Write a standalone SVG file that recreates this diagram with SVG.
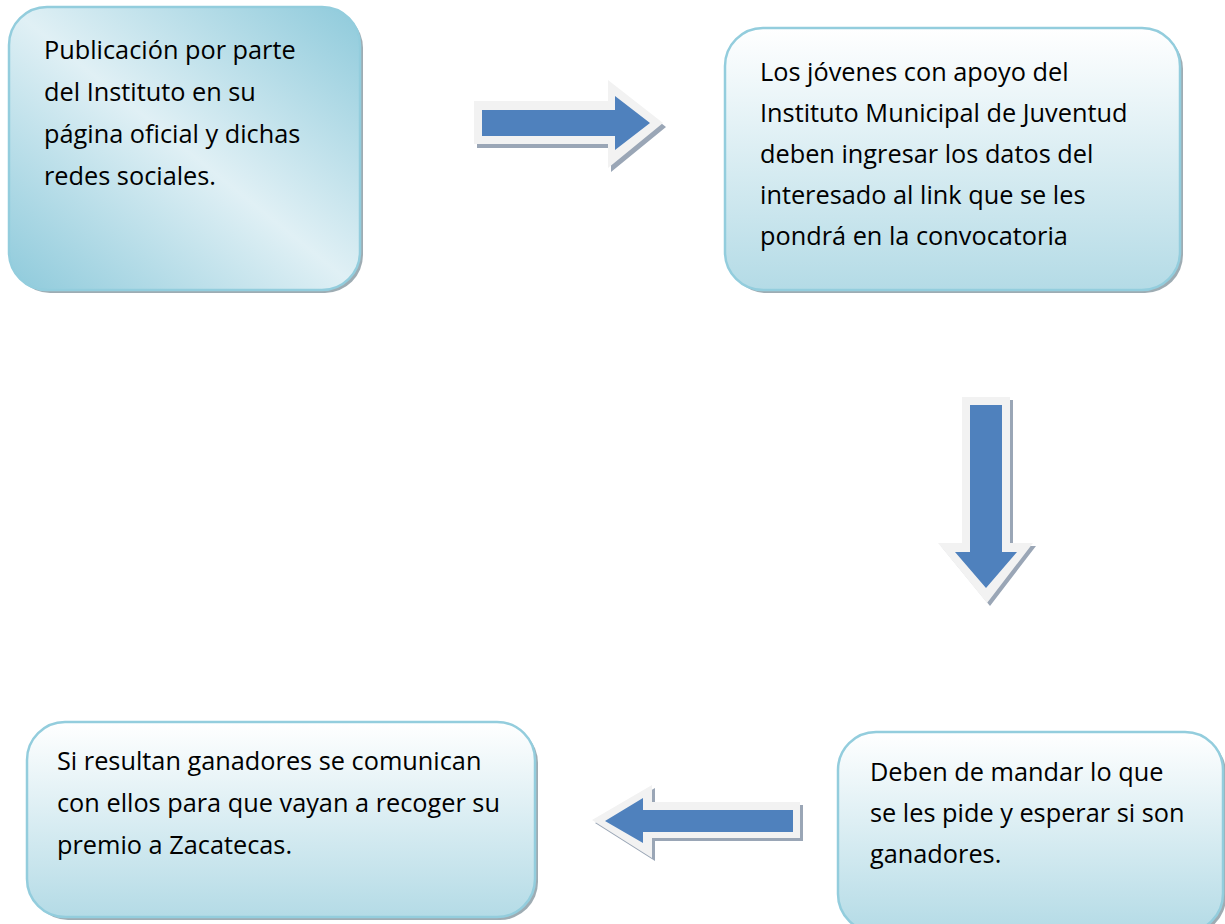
<svg xmlns="http://www.w3.org/2000/svg" width="1225" height="924" viewBox="0 0 1225 924">
<defs>
<linearGradient id="gDiag" x1="0" y1="1" x2="1" y2="0">
<stop offset="0" stop-color="#8ecadb"/>
<stop offset="0.5" stop-color="#e0f0f5"/>
<stop offset="1" stop-color="#8ecadb"/>
</linearGradient>
<linearGradient id="gVert" x1="0" y1="0" x2="0" y2="1">
<stop offset="0" stop-color="#ffffff"/>
<stop offset="1" stop-color="#b4dbe6"/>
</linearGradient>
<style>
.box{stroke:#93cddd;stroke-width:2.5}
.shadow{fill:#8d9ea6;opacity:0.85}
.t{font-family:"Open Sans","Noto Sans",sans-serif;font-size:25.3px;fill:#000}
.ash{fill:#9aa6b6}
.aout{fill:#f2f2f2}
.ain{fill:#4f81bd}
</style>
</defs>
<rect width="1225" height="924" fill="#ffffff"/>
<g id="node1">
<rect class="shadow" x="12" y="10" width="351" height="283" rx="38"/>
<rect class="box" x="9" y="7" width="351" height="283" rx="38" fill="url(#gDiag)"/>
<text class="t"><tspan x="44" y="59">Publicación por parte</tspan><tspan x="44" y="101">del Instituto en su</tspan><tspan x="44" y="143">página oficial y dichas</tspan><tspan x="44" y="185">redes sociales.</tspan></text>
</g>
<g id="node2">
<rect class="shadow" x="728" y="31" width="455" height="262" rx="38"/>
<rect class="box" x="725" y="28" width="455" height="262" rx="38" fill="url(#gVert)"/>
<text class="t"><tspan x="760" y="81">Los jóvenes con apoyo del</tspan><tspan x="760" y="122">Instituto Municipal de Juventud</tspan><tspan x="760" y="163">deben ingresar los datos del</tspan><tspan x="760" y="204">interesado al link que se les</tspan><tspan x="760" y="245">pondrá en la convocatoria</tspan></text>
</g>
<g id="node3">
<rect class="shadow" x="841" y="735" width="385" height="200" rx="38"/>
<rect class="box" x="838" y="732" width="385" height="200" rx="38" fill="url(#gVert)"/>
<text class="t"><tspan x="870" y="781">Deben de mandar lo que</tspan><tspan x="870" y="822">se les pide y esperar si son</tspan><tspan x="870" y="863">ganadores.</tspan></text>
</g>
<g id="node4">
<rect class="shadow" x="30" y="725" width="508" height="195" rx="38"/>
<rect class="box" x="27" y="722" width="508" height="195" rx="38" fill="url(#gVert)"/>
<text class="t"><tspan x="57" y="770">Si resultan ganadores se comunican</tspan><tspan x="57" y="812">con ellos para que vayan a recoger su</tspan><tspan x="57" y="854">premio a Zacatecas.</tspan></text>
</g>
<g id="connectors">
<g id="arrow-right">
<polygon class="ash" transform="translate(3,4)" points="474,101 608,101 608,80 663,123 608,168 608,144 474,144"/>
<polygon class="aout" points="474,101 608,101 608,80 663,123 608,168 608,144 474,144"/>
<polygon class="ain" points="482,110 615,110 615,96 650,123 615,150 615,136 482,136"/>
</g>
<g id="arrow-down">
<polygon class="ash" transform="translate(3,3)" points="962,397 1010,397 1010,543 1033,543 987,603 938,543 962,543"/>
<polygon class="aout" points="962,397 1010,397 1010,543 1033,543 987,603 938,543 962,543"/>
<polygon class="ain" points="970,405 1002,405 1002,552 1017,552 986,588 955,552 970,552"/>
</g>
<g id="arrow-left">
<polygon class="ash" transform="translate(3,3)" points="800,802 652,802 652,785 592,820 652,858 652,838 800,838"/>
<polygon class="aout" points="800,802 652,802 652,785 592,820 652,858 652,838 800,838"/>
<polygon class="ain" points="793,810 643,810 643,798 605,821 643,843 643,832 793,832"/>
</g>
</g>
</svg>
